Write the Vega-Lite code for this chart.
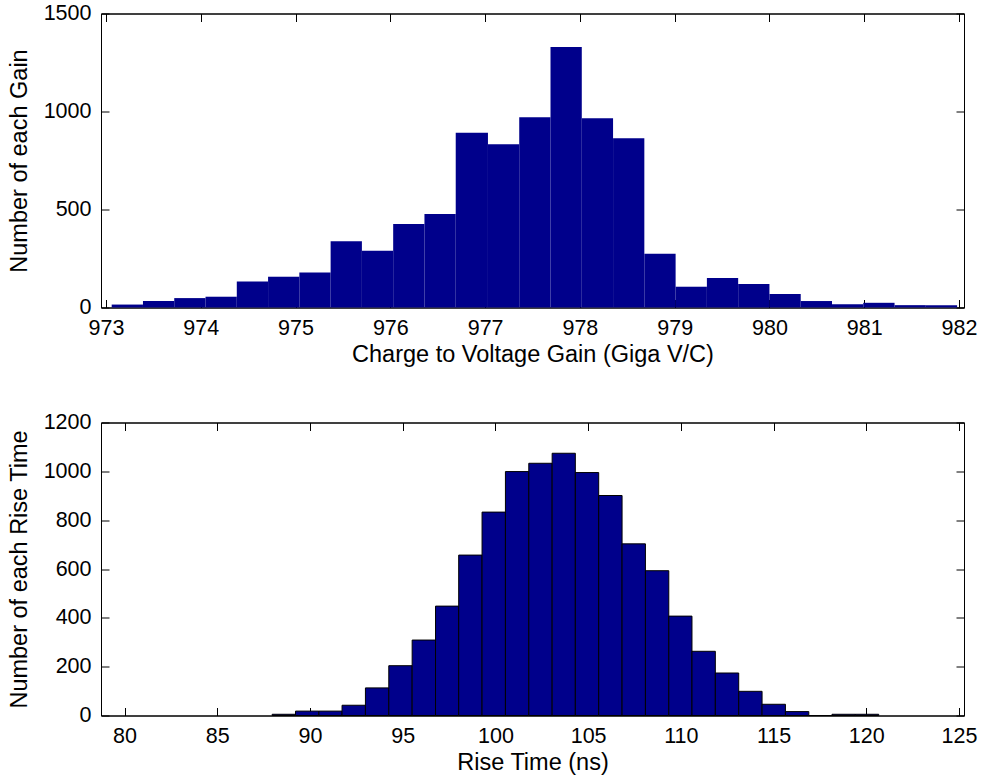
{
  "$schema": "https://vega.github.io/schema/vega-lite/v6.json",
  "background": "white",
  "padding": {"left": 6, "top": 1.5, "right": 0, "bottom": 0},
  "spacing": 44,
  "datasets": {
    "gain": [
      {"lo": 973.06, "hi": 973.39, "count": 15},
      {"lo": 973.39, "hi": 973.72, "count": 33},
      {"lo": 973.72, "hi": 974.05, "count": 48},
      {"lo": 974.05, "hi": 974.38, "count": 55},
      {"lo": 974.38, "hi": 974.71, "count": 133},
      {"lo": 974.71, "hi": 975.04, "count": 157},
      {"lo": 975.04, "hi": 975.37, "count": 178},
      {"lo": 975.37, "hi": 975.70, "count": 338},
      {"lo": 975.70, "hi": 976.03, "count": 289},
      {"lo": 976.03, "hi": 976.36, "count": 426},
      {"lo": 976.36, "hi": 976.69, "count": 477},
      {"lo": 976.69, "hi": 977.03, "count": 891},
      {"lo": 977.03, "hi": 977.36, "count": 833},
      {"lo": 977.36, "hi": 977.69, "count": 971},
      {"lo": 977.69, "hi": 978.02, "count": 1329},
      {"lo": 978.02, "hi": 978.35, "count": 966},
      {"lo": 978.35, "hi": 978.68, "count": 863},
      {"lo": 978.68, "hi": 979.01, "count": 274},
      {"lo": 979.01, "hi": 979.34, "count": 106},
      {"lo": 979.34, "hi": 979.67, "count": 151},
      {"lo": 979.67, "hi": 980.00, "count": 120},
      {"lo": 980.00, "hi": 980.33, "count": 69},
      {"lo": 980.33, "hi": 980.66, "count": 33},
      {"lo": 980.66, "hi": 980.99, "count": 17},
      {"lo": 980.99, "hi": 981.32, "count": 24},
      {"lo": 981.32, "hi": 981.65, "count": 12},
      {"lo": 981.65, "hi": 981.98, "count": 12}
    ],
    "rise": [
      {"lo": 87.96, "hi": 89.22, "count": 5},
      {"lo": 89.22, "hi": 90.48, "count": 18},
      {"lo": 90.48, "hi": 91.73, "count": 18},
      {"lo": 91.73, "hi": 92.99, "count": 42},
      {"lo": 92.99, "hi": 94.25, "count": 113},
      {"lo": 94.25, "hi": 95.51, "count": 204},
      {"lo": 95.51, "hi": 96.77, "count": 309},
      {"lo": 96.77, "hi": 98.02, "count": 448},
      {"lo": 98.02, "hi": 99.28, "count": 657},
      {"lo": 99.28, "hi": 100.54, "count": 833},
      {"lo": 100.54, "hi": 101.80, "count": 999},
      {"lo": 101.80, "hi": 103.06, "count": 1033},
      {"lo": 103.06, "hi": 104.31, "count": 1074},
      {"lo": 104.31, "hi": 105.57, "count": 995},
      {"lo": 105.57, "hi": 106.83, "count": 901},
      {"lo": 106.83, "hi": 108.09, "count": 703},
      {"lo": 108.09, "hi": 109.35, "count": 593},
      {"lo": 109.35, "hi": 110.60, "count": 407},
      {"lo": 110.60, "hi": 111.86, "count": 263},
      {"lo": 111.86, "hi": 113.12, "count": 174},
      {"lo": 113.12, "hi": 114.38, "count": 99},
      {"lo": 114.38, "hi": 115.64, "count": 46},
      {"lo": 115.64, "hi": 116.90, "count": 16},
      {"lo": 116.90, "hi": 118.15, "count": 0},
      {"lo": 118.15, "hi": 119.41, "count": 5},
      {"lo": 119.41, "hi": 120.67, "count": 5}
    ]
  },
  "vconcat": [
    {
      "width": 863,
      "height": 294,
      "data": {"name": "gain"},
      "layer": [
        {
          "mark": {"type": "bar", "color": "#00008b", "orient": "vertical"},
          "encoding": {
            "x": {
              "field": "lo", "type": "quantitative",
              "scale": {"domain": [973, 982], "nice": false, "zero": false},
              "axis": {"orient": "bottom", "values": [973, 974, 975, 976, 977, 978, 979, 980, 981, 982], "format": "d", "title": "Charge to Voltage Gain (Giga V/C)"}
            },
            "x2": {"field": "hi"},
            "y": {
              "field": "count", "type": "quantitative",
              "scale": {"domain": [0, 1500], "nice": false},
              "axis": {"orient": "left", "values": [0, 500, 1000, 1500], "format": "d", "title": "Number of each Gain"}
            },
            "y2": {"datum": 0}
          }
        },
        {
          "mark": {"type": "bar", "opacity": 0, "orient": "vertical"},
          "encoding": {
            "x": {
              "field": "lo", "type": "quantitative",
              "axis": {"orient": "top", "values": [973, 974, 975, 976, 977, 978, 979, 980, 981, 982], "labels": false, "title": null}
            },
            "x2": {"field": "hi"},
            "y": {
              "field": "count", "type": "quantitative",
              "axis": {"orient": "right", "values": [0, 500, 1000, 1500], "labels": false, "title": null}
            },
            "y2": {"datum": 0}
          }
        }
      ],
      "resolve": {"axis": {"x": "independent", "y": "independent"}}
    },
    {
      "width": 863,
      "height": 293,
      "data": {"name": "rise"},
      "layer": [
        {
          "mark": {"type": "bar", "color": "#00008b", "stroke": "#000000", "strokeWidth": 1, "orient": "vertical"},
          "encoding": {
            "x": {
              "field": "lo", "type": "quantitative",
              "scale": {"domain": [79, 125], "nice": false, "zero": false},
              "axis": {"orient": "bottom", "values": [80, 85, 90, 95, 100, 105, 110, 115, 120, 125], "format": "d", "title": "Rise Time (ns)"}
            },
            "x2": {"field": "hi"},
            "y": {
              "field": "count", "type": "quantitative",
              "scale": {"domain": [0, 1200], "nice": false},
              "axis": {"orient": "left", "values": [0, 200, 400, 600, 800, 1000, 1200], "format": "d", "title": "Number of each Rise Time"}
            },
            "y2": {"datum": 0}
          }
        },
        {
          "mark": {"type": "bar", "opacity": 0, "orient": "vertical"},
          "encoding": {
            "x": {
              "field": "lo", "type": "quantitative",
              "axis": {"orient": "top", "values": [80, 85, 90, 95, 100, 105, 110, 115, 120, 125], "labels": false, "title": null}
            },
            "x2": {"field": "hi"},
            "y": {
              "field": "count", "type": "quantitative",
              "axis": {"orient": "right", "values": [0, 200, 400, 600, 800, 1000, 1200], "labels": false, "title": null}
            },
            "y2": {"datum": 0}
          }
        }
      ],
      "resolve": {"axis": {"x": "independent", "y": "independent"}}
    }
  ],
  "config": {
    "view": {"stroke": "#000000", "strokeWidth": 1},
    "font": "Liberation Sans",
    "axis": {
      "grid": false,
      "domainColor": "#000000",
      "domainWidth": 1,
      "tickColor": "#000000",
      "tickWidth": 1,
      "tickSize": -8,
      "labelFont": "Liberation Sans",
      "labelFontSize": 21.5,
      "labelColor": "#000000",
      "labelFlush": false,
      "labelOverlap": false,
      "labelBound": false,
      "titleFont": "Liberation Sans",
      "titleFontSize": 23.5,
      "titleFontWeight": "normal",
      "titleColor": "#000000"
    },
    "axisX": {"labelPadding": 18, "titlePadding": 3},
    "axisY": {"labelPadding": 18, "titlePadding": 12}
  }
}
